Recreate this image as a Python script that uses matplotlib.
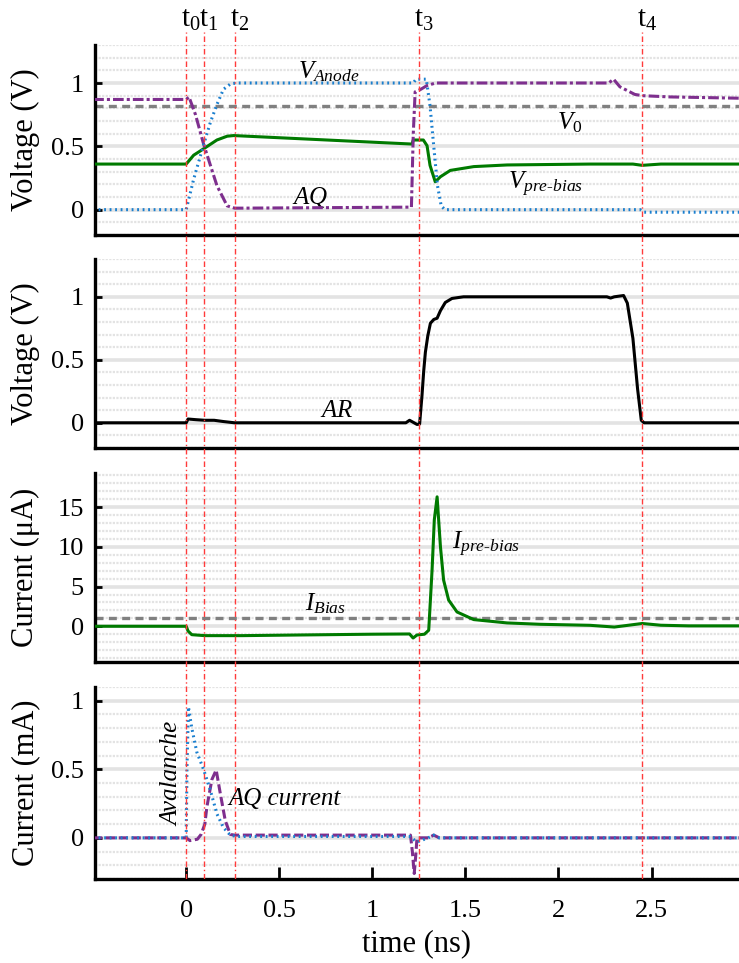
import numpy as np
import matplotlib
matplotlib.use('Agg')
import matplotlib.pyplot as plt
from matplotlib.ticker import MultipleLocator

plt.rcParams['font.family'] = ['Liberation Serif', 'DejaVu Serif']
plt.rcParams['mathtext.fontset'] = 'custom'
plt.rcParams['mathtext.rm'] = 'Liberation Serif'
plt.rcParams['mathtext.it'] = 'Liberation Serif:italic'

# ---- data (time in ns) ----
t_marks = [0.0, 0.096, 0.26, 1.252, 2.45]
t_names = ['t$_0$', 't$_1$', 't$_2$', 't$_3$', 't$_4$']

v0_level = 0.82
ibias_level = 1.05

t_anode = [-0.5, 0.0, 0.04, 0.093, 0.13, 0.165, 0.2, 0.24, 0.28, 1.22, 1.235, 1.29, 1.31, 1.33, 1.35, 1.37, 1.39, 2.44, 2.46, 2.97]
v_anode = [0.0, 0.0, 0.24, 0.51, 0.69, 0.83, 0.95, 0.995, 1.0, 1.0, 1.03, 1.03, 0.82, 0.5, 0.19, 0.03, 0.0, 0.0, -0.02, -0.02]

t_aq = [-0.5, 0.0, 0.015, 0.05, 0.093, 0.165, 0.22, 0.26, 0.3, 1.21, 1.22, 1.23, 1.26, 1.294, 1.34, 2.27, 2.296, 2.33, 2.41, 2.45, 2.6, 2.97]
v_aq = [0.87, 0.87, 0.89, 0.75, 0.52, 0.19, 0.03, 0.012, 0.012, 0.02, 0.6, 0.93, 0.95, 0.98, 1.0, 1.0, 1.03, 0.97, 0.91, 0.9, 0.89, 0.88]

t_vpre = [-0.5, 0.0, 0.04, 0.093, 0.165, 0.22, 0.255, 1.213, 1.22, 1.274, 1.294, 1.31, 1.338, 1.366, 1.419, 1.545, 1.724, 2.17, 2.4, 2.45, 2.55, 2.97]
v_vpre = [0.36, 0.36, 0.43, 0.48, 0.55, 0.58, 0.585, 0.518, 0.55, 0.55, 0.505, 0.35, 0.22, 0.26, 0.31, 0.34, 0.353, 0.36, 0.36, 0.35, 0.36, 0.36]

t_ar = [-0.5, 0.0, 0.01, 0.05, 0.1, 0.15, 0.2, 0.26, 1.18, 1.2, 1.24, 1.254, 1.267, 1.276, 1.285, 1.298, 1.312, 1.33, 1.348, 1.366, 1.392, 1.428, 1.49, 2.26, 2.28, 2.3, 2.35, 2.37, 2.40, 2.425, 2.445, 2.46, 2.97]
v_ar = [0.0, 0.0, 0.03, 0.025, 0.02, 0.02, 0.01, 0.0, 0.0, 0.02, -0.013, -0.01, 0.22, 0.41, 0.56, 0.69, 0.79, 0.82, 0.83, 0.89, 0.955, 0.987, 1.0, 1.0, 0.99, 1.0, 1.01, 0.95, 0.67, 0.27, 0.02, 0.0, 0.0]

t_ipre = [-0.5, 0.0, 0.01, 0.03, 0.1, 0.3, 0.6, 1.0, 1.2, 1.219, 1.24, 1.28, 1.303, 1.321, 1.333, 1.348, 1.366, 1.383, 1.41, 1.455, 1.545, 1.724, 1.9, 2.17, 2.3, 2.45, 2.55, 2.7, 2.97]
v_ipre = [0.0, 0.0, -0.6, -1.06, -1.18, -1.18, -1.1, -1.0, -0.97, -1.48, -1.1, -1.0, -0.5, 7.1, 13.4, 16.3, 10.0, 5.8, 3.3, 1.8, 0.84, 0.42, 0.25, 0.12, -0.1, 0.35, 0.13, 0.05, 0.05]

t_aval = [-0.5, 0.0, 0.004, 0.012, 0.03, 0.057, 0.093, 0.129, 0.165, 0.2, 0.237, 0.27, 1.2, 1.24, 1.3, 1.33, 1.36, 2.97]
i_aval = [0.0, 0.0, 0.5, 0.955, 0.8, 0.625, 0.5, 0.35, 0.175, 0.075, 0.02, 0.01, 0.01, -0.03, 0.0, 0.02, 0.0, 0.0]

t_aqi = [-0.5, 0.0, 0.02, 0.06, 0.08, 0.1, 0.111, 0.138, 0.161, 0.183, 0.21, 0.237, 0.26, 1.205, 1.215, 1.225, 1.232, 1.24, 1.3, 1.33, 1.36, 2.97]
i_aqi = [0.0, 0.0, -0.02, -0.01, 0.025, 0.1, 0.225, 0.425, 0.495, 0.325, 0.125, 0.025, 0.02, 0.02, -0.1, -0.26, -0.15, 0.0, 0.0, 0.02, 0.0, 0.0]

# ---- style ----
blue = '#1a7fcf'
purple = '#7E2F8E'
green = '#007a00'
gray = '#808080'
red = '#ff3b3b'
dotted = (0, (0.6, 1.2))
dashdot = (0, (3.5, 1, 1, 1))
W, H = 739, 963

fig = plt.figure(figsize=(W / 100, H / 100), dpi=100)

def add_panel(top, bottom, ylim, major, minor):
    ax = fig.add_axes([95 / W, 1 - bottom / H, 644 / W, (bottom - top) / H])
    ax.set_xlim(-0.49, 2.97)
    ax.set_ylim(*ylim)
    ax.yaxis.set_major_locator(MultipleLocator(major))
    ax.yaxis.set_minor_locator(MultipleLocator(minor))
    ax.xaxis.set_major_locator(MultipleLocator(0.5))
    ax.grid(True, which='major', axis='y', color='#e3e3e3', lw=2.6, zorder=0)
    ax.grid(True, which='minor', axis='y', color='#e3e3e3', lw=1.6, ls=(0, (1, 0.6)), zorder=0)
    ax.set_axisbelow(True)
    for s in ['top', 'right']:
        ax.spines[s].set_visible(False)
    for s in ['left', 'bottom']:
        ax.spines[s].set_linewidth(2.4)
    ax.tick_params(axis='y', which='major', direction='in', length=5, width=2, labelsize=19, pad=8)
    ax.tick_params(axis='y', which='minor', length=0)
    ax.tick_params(axis='x', which='both', length=0, labelbottom=False)
    ax.yaxis.set_major_formatter(plt.FuncFormatter(lambda v, p: ('%g' % v)))
    return ax

ax1 = add_panel(45, 235, (-0.2, 1.3), 0.5, 0.1)
ax2 = add_panel(259, 448, (-0.2, 1.3), 0.5, 0.1)
ax3 = add_panel(473, 662, (-4.5, 19.3), 5, 1)
ax4 = add_panel(687, 879, (-0.3, 1.1), 0.5, 0.1)

# panel 1
ax1.axhline(v0_level, color=gray, lw=2.4, ls=(0, (2.4, 1.6)), zorder=2)
ax1.plot(t_vpre, v_vpre, color=green, lw=2.2, zorder=3)
ax1.plot(t_aq, v_aq, color=purple, lw=2.2, ls=dashdot, zorder=4)
ax1.plot(t_anode, v_anode, color=blue, lw=2.2, ls=dotted, zorder=5)
ax1.set_ylabel('Voltage (V)', fontsize=22)
ax1.text(0.6, 1.09, r'$\mathit{V}_{\mathit{Anode}}$', fontsize=18, va='center')
ax1.text(1.99, 0.69, r'$\mathit{V}_{\mathit{0}}$', fontsize=18, va='center')
ax1.text(0.57, 0.1, r'$\mathit{AQ}$', fontsize=18, va='center')
ax1.text(1.73, 0.2, r'$\mathit{V}_{\mathit{pre\text{-}bias}}$', fontsize=18, va='center')

# panel 2
ax2.plot(t_ar, v_ar, color='black', lw=2.2, zorder=3)
ax2.set_ylabel('Voltage (V)', fontsize=22)
ax2.text(0.72, 0.09, r'$\mathit{AR}$', fontsize=18, va='center')

# panel 3
ax3.axhline(ibias_level, color=gray, lw=2.4, ls=(0, (2.4, 1.6)), zorder=2)
ax3.plot(t_ipre, v_ipre, color=green, lw=2.2, zorder=3)
ax3.set_ylabel('Current (\u03bcA)', fontsize=22)
ax3.text(0.64, 2.8, r'$\mathit{I}_{\mathit{Bias}}$', fontsize=18, va='center')
ax3.text(1.43, 10.3, r'$\mathit{I}_{\mathit{pre\text{-}bias}}$', fontsize=18, va='center')

# panel 4
ax4.plot(t_aqi, i_aqi, color=purple, lw=2.2, ls=(0, (3, 1.2)), zorder=3)
ax4.plot(t_aval, i_aval, color=blue, lw=2.2, ls=dotted, zorder=4)
ax4.set_ylabel('Current (mA)', fontsize=22)
ax4.text(-0.075, 0.47, 'Avalanche', fontsize=18, style='italic', rotation=90, ha='center', va='center')
ax4.text(0.225, 0.28, 'AQ current', fontsize=18, style='italic', va='center')
ax4.tick_params(axis='x', which='major', direction='in', length=9, width=2, labelbottom=True, labelsize=19, pad=15)
ax4.xaxis.set_major_formatter(plt.FuncFormatter(lambda v, p: ('%g' % v)))
ax4.set_xlabel('time (ns)', fontsize=22, labelpad=5)

for ax in (ax1, ax2, ax3, ax4):
    ax.yaxis.set_label_coords(-0.085, 0.5)

# red time markers running through every panel
ov = fig.add_axes([95 / W, 1 - 879 / H, 644 / W, (879 - 32) / H])
ov.set_xlim(-0.49, 2.97)
ov.set_ylim(0, 1)
ov.axis('off')
for tm in t_marks:
    ov.axvline(tm, color=red, lw=1.0, ls=(0, (4, 2, 1, 2)))
# the "t" sits centred on its line, subscript hanging to the right
for tm, nm in zip(t_marks, t_names):
    xpix = 95 + (tm + 0.49) * 644 / 3.46 - 5
    fig.text(xpix / W, 1 - 20 / H, nm, fontsize=21, ha='left', va='center')

fig.savefig('out.png', dpi=100)
